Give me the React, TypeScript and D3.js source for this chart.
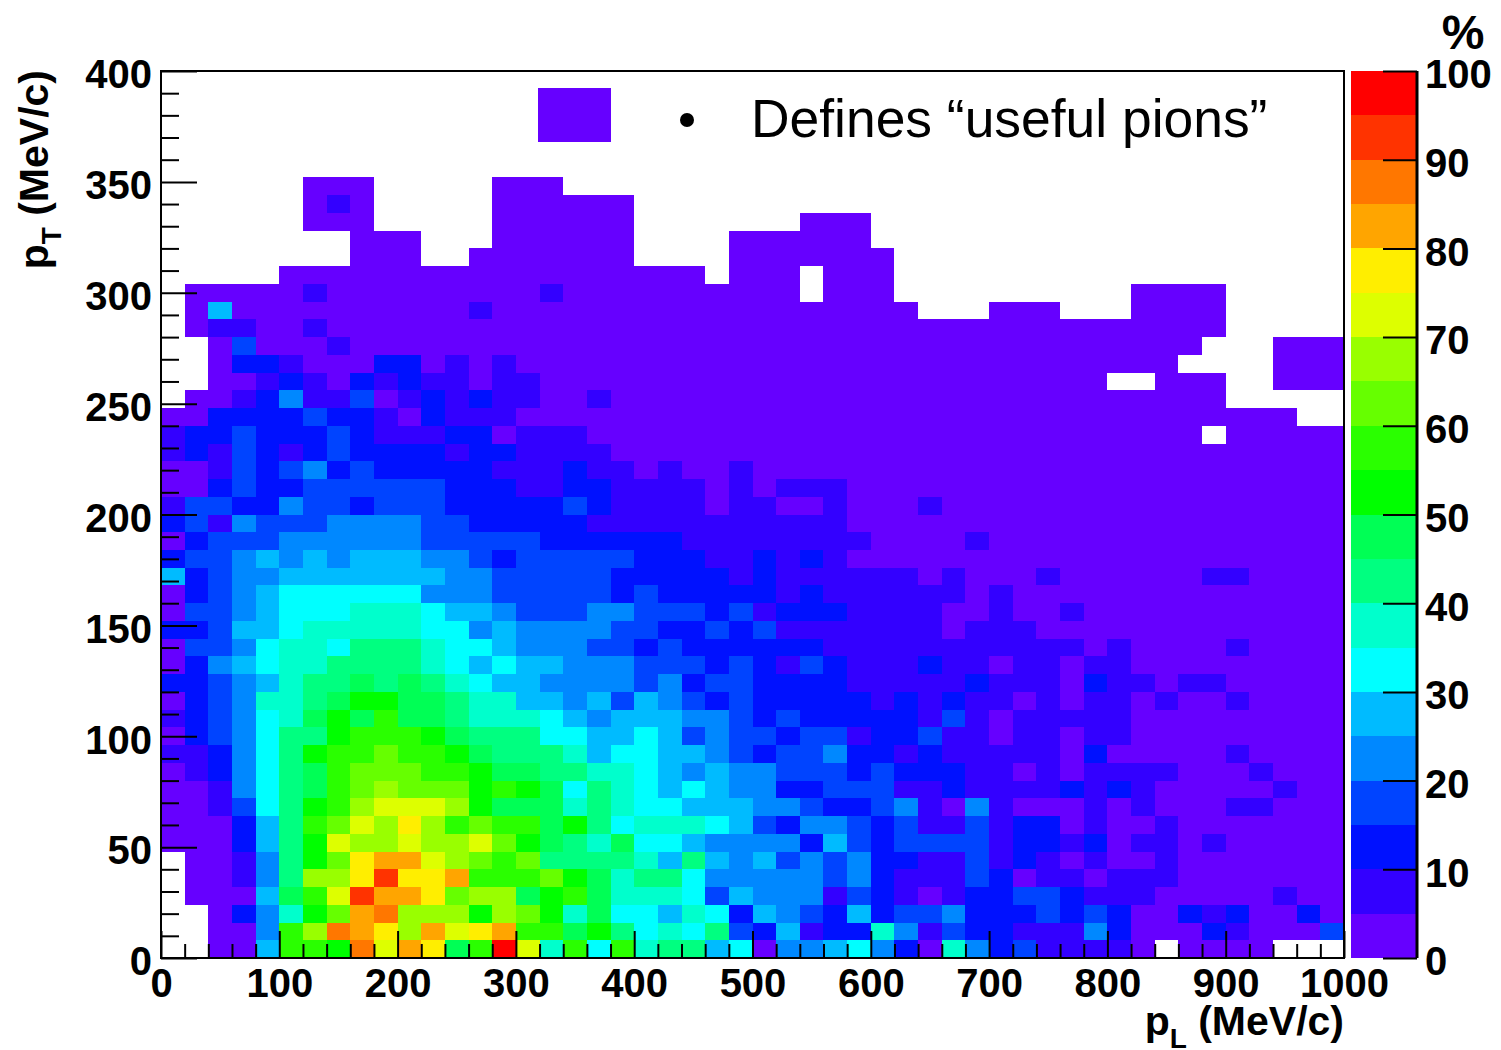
import React, { useEffect, useRef } from 'react';
import * as d3 from 'd3';

// colour bins of the z axis, 5% wide, lowest first
const palette = [
  '#6600ff', '#3300ff', '#0011ff', '#0044ff', '#0088ff',
  '#00bbff', '#00ffff', '#00ffcc', '#00ff80', '#00ff55',
  '#00ff00', '#2aff00', '#66ff00', '#99ff00', '#ddff00',
  '#ffee00', '#ffa500', '#ff7700', '#ff3300', '#ff0000',
];

// one string per pT row, lowest row first, one char per pL bin.
// char is the base 20 bin of the percentage, '.' is an empty cell
const rows = [
  '..005bbahegf9 bje7b6b78856 044564207423 11110.0000...',
  '..004bdhgfdge fgbb9a867683 251227413221 1142000210003',
  '..0247acghddd adca79665762 543252334222 3232002120020',
  '.00059beiggfc dd9ab9777635 444132101223 3211100000100',
  '.00148ddfiffg bbbca9788644 444342111320 1101110000000',
  '.00148acfgged cbc888875854 534342211312 1010010000000',
  '000258aeddedd eca987966544 442532333312 2120110100000',
  '000258bcedfdb cbb9a8677765 324432311312 2010010000000',
  '001368abdeeed a99978766555 443223410410 0010100011000',
  '0014689bcdccc aba968765654 422333112111 1212100000100',
  '0124689bcccbb a99887765454 433323222110 1011110001000',
  '112468abbcbba 988875665543 233422121111 1020000010000',
  '0234688abbba9 888665565343 323312231101 1011000000000',
  '1234679a9b998 777654555443 232222213101 1111000000000',
  '02347789aa998 775545354323 222221212110 1011010010000',
  '2234578898987 655444434233 222211111211 1021101100000',
  '0245677888876 565544433323 213211121101 1011000000000',
  '0334677688876 654443323222 222111111111 1101000010000',
  '2235567777766 454444332232 311111110111 0000000000000',
  '0334566677765 543334433323 122211110010 0100000000000',
  '0234566666644 433333232222 212111111010 0000000000000',
  '5234455555554 433333222221 211111101000 1000000110000',
  '2334545455544 323333322211 212100000000 0000000000000',
  '0233344444433 333222222111 111110000100 0000000000000',
  '2314333444433 222221111111 111100000000 0000000000000',
  '1332243323332 222232111101 100100010000 0000000000000',
  '0023223333332 221122111101 011100000000 0000000000000',
  '0013234232222 211121101001 000000000000 0000000000000',
  '1213212322221 221111000000 000000000000 0000000000000',
  '1223222321112 201110000000 000000000000 0000000.00000',
  '0022223221021 110000000000 000000000000 00000000000..',
  '.001241130121 211001000000 000000000000 00000000.....',
  '..00121021211 011000000000 000000000000 000..000..000',
  '..02210002201 010000000000 000000000000 000000....000',
  '..03000100000 000000000000 000000000000 0000000...000',
  '.011001000000 000000000000 000000000000 00000000.....',
  '.050000000000 100000000000 0000000...00 0...0000.....',
  '.000001000000 000100000000 00.000...... ....0000.....',
  '.....00000000 0000000000.0 00.000...... .............',
  '........000.. 0000000....0 000000...... .............',
  '........000.. .000000....0 00000....... .............',
  '......000.... .000000..... ..000....... .............',
  '......010.... .000000..... ............ .............',
  '......000.... .000........ ............ .............',
];

const xMajor = [0, 100, 200, 300, 400, 500, 600, 700, 800, 900, 1000];
const yMajor = [0, 50, 100, 150, 200, 250, 300, 350, 400];
const zMajor = [0, 10, 20, 30, 40, 50, 60, 70, 80, 90, 100];
const binWidthX = 20;
const binWidthY = 8;
const binWidthZ = 5;

const FONT = '"Liberation Sans", Arial, sans-serif';

const plot = { left: 161, right: 1344, top: 71, bottom: 958 };
const bar = { left: 1351, right: 1417 };

export default function App() {
  const svgRef = useRef<SVGSVGElement>(null);

  useEffect(() => {
    const svg = d3.select(svgRef.current);
    svg.selectAll('*').remove();

    const x = d3.scaleLinear().domain([0, 1000]).range([plot.left, plot.right]);
    const y = d3.scaleLinear().domain([0, 400]).range([plot.bottom, plot.top]);
    const z = d3.scaleLinear().domain([0, 100]).range([plot.bottom, plot.top]);
    const color = d3.scaleQuantize<string>().domain([0, 100]).range(palette);

    // decode the rows to cells
    const cells: { pL: number; pT: number; value: number }[] = [];
    rows.forEach((row, j) => {
      row.replace(/ /g, '').split('').forEach((c, i) => {
        if (c === '.') return;
        cells.push({
          pL: i * binWidthX,
          pT: j * binWidthY,
          value: parseInt(c, 20) * binWidthZ + binWidthZ / 2,
        });
      });
    });

    svg.append('g')
      .attr('shape-rendering', 'crispEdges')
      .selectAll('rect')
      .data(cells)
      .join('rect')
      .attr('x', d => x(d.pL))
      .attr('y', d => y(d.pT + binWidthY))
      .attr('width', d => x(d.pL + binWidthX) - x(d.pL))
      .attr('height', d => y(d.pT) - y(d.pT + binWidthY))
      .attr('fill', d => color(d.value));

    // frame of the plot
    svg.append('rect')
      .attr('x', plot.left)
      .attr('y', plot.top)
      .attr('width', plot.right - plot.left)
      .attr('height', plot.bottom - plot.top)
      .attr('fill', 'none')
      .attr('stroke', '#000')
      .attr('stroke-width', 2);

    const styleAxis = (g: any, size: number) => {
      g.select('.domain').remove();
      g.selectAll('line').attr('stroke', '#000').attr('stroke-width', 2);
      g.selectAll('text')
        .attr('fill', '#000')
        .attr('font-family', FONT)
        .attr('font-weight', 'bold')
        .attr('font-size', size);
    };

    // x axis, ticks point up into the plot
    const xMinor = d3.range(0, 1001, 20).filter(v => !xMajor.includes(v));
    svg.append('g')
      .attr('transform', `translate(0,${plot.bottom})`)
      .call(d3.axisBottom(x).tickValues(xMinor).tickSize(-14).tickFormat(() => ''))
      .call(styleAxis, 40);
    svg.append('g')
      .attr('transform', `translate(0,${plot.bottom})`)
      .call(d3.axisBottom(x).tickValues(xMajor).tickSize(-27).tickPadding(11).tickFormat(d3.format('d')))
      .call(styleAxis, 40);

    // y axis
    const yMinor = d3.range(0, 401, 10).filter(v => !yMajor.includes(v));
    svg.append('g')
      .attr('transform', `translate(${plot.left},0)`)
      .call(d3.axisLeft(y).tickValues(yMinor).tickSize(-18).tickFormat(() => ''))
      .call(styleAxis, 40);
    svg.append('g')
      .attr('transform', `translate(${plot.left},0)`)
      .call(d3.axisLeft(y).tickValues(yMajor).tickSize(-36).tickPadding(9).tickFormat(d3.format('d')))
      .call(styleAxis, 40)
      .selectAll('text')
      .attr('dy', '0.42em');

    // colour bar
    svg.append('g')
      .attr('shape-rendering', 'crispEdges')
      .selectAll('rect')
      .data(palette)
      .join('rect')
      .attr('x', bar.left)
      .attr('y', (_, i) => z((i + 1) * binWidthZ))
      .attr('width', bar.right - bar.left)
      .attr('height', (_, i) => z(i * binWidthZ) - z((i + 1) * binWidthZ))
      .attr('fill', d => d);

    svg.append('line')
      .attr('x1', bar.right)
      .attr('x2', bar.right)
      .attr('y1', plot.top)
      .attr('y2', plot.bottom)
      .attr('stroke', '#000')
      .attr('stroke-width', 3);

    svg.append('g')
      .attr('transform', `translate(${bar.right},0)`)
      .call(d3.axisRight(z).tickValues(zMajor).tickSize(-34).tickPadding(8).tickFormat(d3.format('d')))
      .call(styleAxis, 40)
      .selectAll('text')
      .attr('text-anchor', 'start')
      .attr('dy', '0.42em');

    // axis titles, with the subscript as a tspan
    const title = (sel: any, sub: string) => {
      sel.attr('font-family', FONT)
        .attr('font-weight', 'bold')
        .attr('font-size', 41)
        .attr('text-anchor', 'end')
        .attr('fill', '#000');
      sel.append('tspan').text('p');
      sel.append('tspan').attr('dy', 13).attr('font-size', 28).text(sub);
      sel.append('tspan').attr('dy', -13).text(' (MeV/c)');
    };
    svg.append('text')
      .attr('transform', `translate(48,70) rotate(-90)`)
      .call(title, 'T');
    svg.append('text')
      .attr('x', plot.right)
      .attr('y', 1035)
      .call(title, 'L');

    svg.append('text')
      .attr('x', 1463)
      .attr('y', 49)
      .attr('text-anchor', 'middle')
      .attr('font-family', FONT)
      .attr('font-weight', 'bold')
      .attr('font-size', 48)
      .attr('fill', '#000')
      .text('%');

    // the slide's note on top of the plot
    svg.append('rect')
      .attr('x', 538)
      .attr('y', 88)
      .attr('width', 73)
      .attr('height', 54)
      .attr('fill', palette[0]);
    svg.append('circle')
      .attr('cx', 687)
      .attr('cy', 120)
      .attr('r', 7)
      .attr('fill', '#000');
    svg.append('text')
      .attr('x', 751)
      .attr('y', 137)
      .attr('font-family', FONT)
      .attr('font-size', 53.4)
      .attr('fill', '#000')
      .text('Defines “useful pions”');
  }, []);

  return (
    <svg
      ref={svgRef}
      width={1501}
      height={1050}
      style={{ position: 'absolute', left: 0, top: 0, background: '#fff' }}
    />
  );
}
